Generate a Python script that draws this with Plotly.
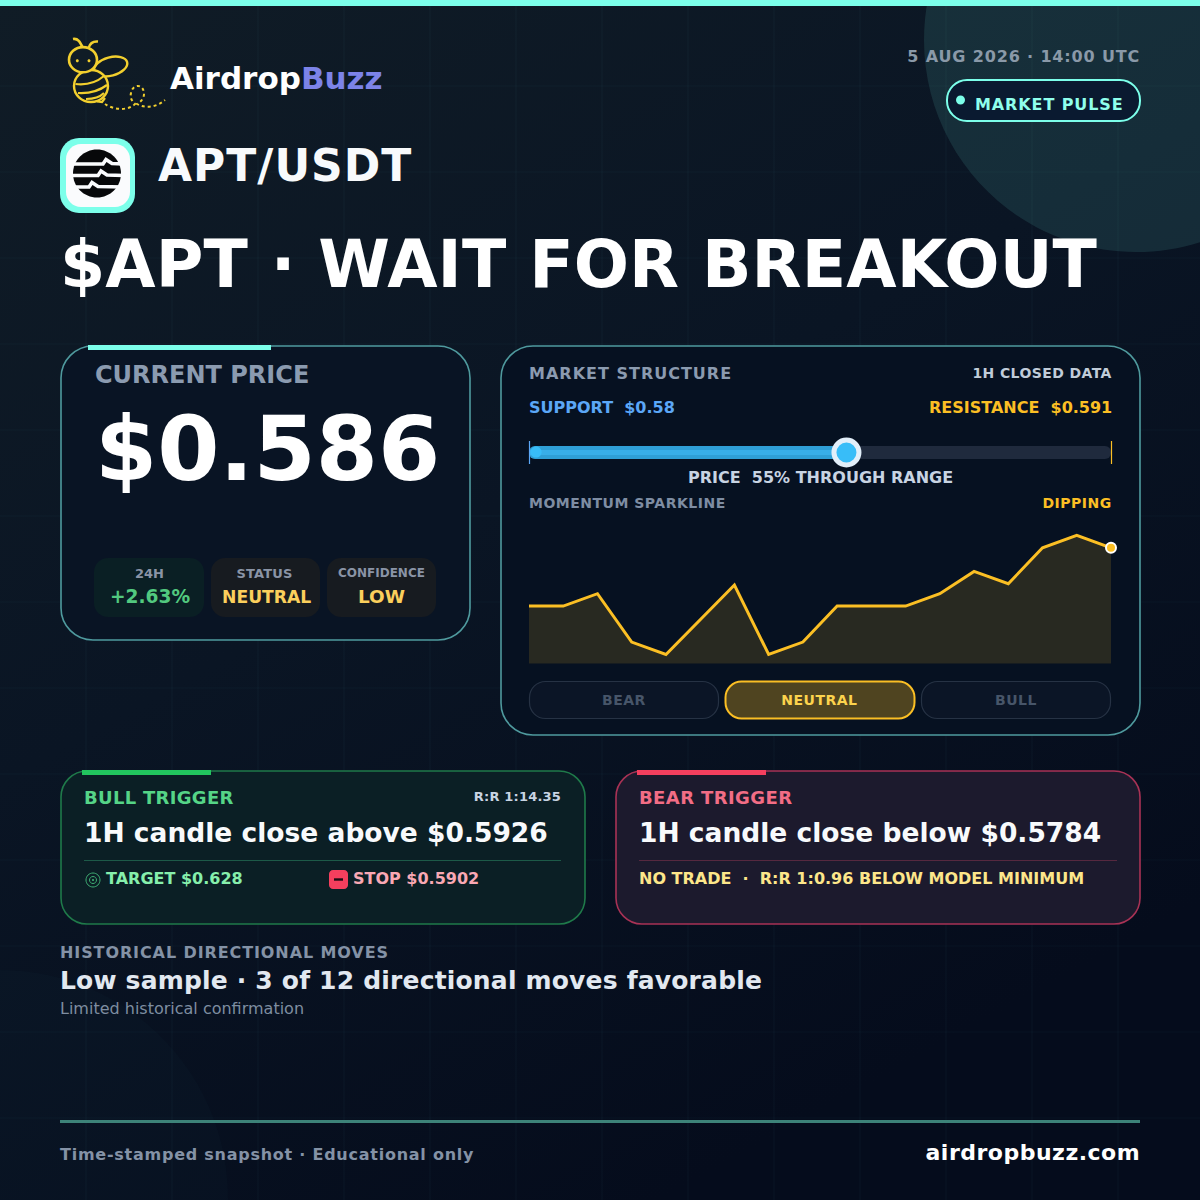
import base64, json, math
import plotly.graph_objects as go

# ---------- data ----------
SPARK_PRICES = [0.5813, 0.5813, 0.5823, 0.5784, 0.5774, 0.5802, 0.5830, 0.5774, 0.5784,
                0.5813, 0.5813, 0.5813, 0.5823, 0.5841, 0.5831, 0.5860, 0.5870, 0.5860]
SUPPORT = 0.58
RESISTANCE = 0.591
PRICE = 0.586
REGIMES = ["BEAR", "NEUTRAL", "BULL"]
STATS = [("24H", "+2.63%"), ("STATUS", "NEUTRAL"), ("CONFIDENCE", "LOW")]

FONT = "DejaVu Sans"
shapes, annos, LS = [], [], []
W = 1200.0


def rrect(x0, y0, x1, y1, r):
    k = r * 0.45
    return (f"M{x0+r},{y0} L{x1-r},{y0} C{x1-k},{y0} {x1},{y0+k} {x1},{y0+r} L{x1},{y1-r} "
            f"C{x1},{y1-k} {x1-k},{y1} {x1-r},{y1} L{x0+r},{y1} C{x0+k},{y1} {x0},{y1-k} {x0},{y1-r} "
            f"L{x0},{y0+r} C{x0},{y0+k} {x0+k},{y0} {x0+r},{y0} Z")


def ell(cx, cy, rx, ry, deg):
    a = math.radians(deg)
    def P(u, v):
        return f"{cx + u*math.cos(a) - v*math.sin(a):.2f},{cy + u*math.sin(a) + v*math.cos(a):.2f}"
    k = 0.5523
    return (f"M{P(rx,0)} C{P(rx,k*ry)} {P(k*rx,ry)} {P(0,ry)} C{P(-k*rx,ry)} {P(-rx,k*ry)} {P(-rx,0)} "
            f"C{P(-rx,-k*ry)} {P(-k*rx,-ry)} {P(0,-ry)} C{P(k*rx,-ry)} {P(rx,-k*ry)} {P(rx,0)} Z")


def path(d, fill=None, line=None, lw=0, dash=None, layer="below"):
    s = dict(type="path", path=d, xref="x", yref="y", layer=layer,
             line=dict(width=lw, color=line or "rgba(0,0,0,0)"))
    if dash:
        s["line"]["dash"] = dash
    if fill:
        s["fillcolor"] = fill
    shapes.append(s)


def rect(x0, y0, x1, y1, r, fill=None, line=None, lw=0, layer="below"):
    path(rrect(x0, y0, x1, y1, r), fill, line, lw, layer=layer)


def circle(cx, cy, r, fill=None, line=None, lw=0, layer="below"):
    path(ell(cx, cy, r, r, 0), fill, line, lw, layer=layer)


def T(x, y, text, size, color, weight=700, anchor="left", ls=0):
    annos.append(dict(x=x, y=y, xref="x", yref="y", text=text, showarrow=False, xanchor=anchor,
                      yanchor="middle", align=anchor, borderpad=0, borderwidth=0,
                      font=dict(family=FONT, size=size, color=color, weight=weight)))
    LS.append(ls)


# ---------- background ----------
svg = ('<svg xmlns="http://www.w3.org/2000/svg" width="1200" height="1200">'
       '<defs><linearGradient id="g" x1="0" y1="0" x2="0.55" y2="1">'
       '<stop offset="0" stop-color="#101c26"/><stop offset="0.5" stop-color="#0a1524"/>'
       '<stop offset="1" stop-color="#050c1c"/></linearGradient></defs>'
       '<rect width="1200" height="1200" fill="url(#g)"/></svg>')
bg_uri = "data:image/svg+xml;base64," + base64.b64encode(svg.encode()).decode()

for i in range(1, 14):
    p = 86 * i
    path(f"M{p},0 L{p},1200", line="rgba(130,220,220,0.05)", lw=1)
    path(f"M0,{p} L1200,{p}", line="rgba(130,220,220,0.04)", lw=1)

circle(1136, 40, 212, fill="rgba(124,255,234,0.105)")
circle(0, 1198, 228, fill="rgba(124,255,234,0.015)")
rect(-2, -2, 1202, 6, 0, fill="#7cffea")

# ---------- logo: bee ----------
Y = "#f2cf2e"
BG = "#101c26"
path("M83,48 C80,42 78,38 73,39", line=Y, lw=2.6)
path("M88.5,48 C90,43 93,41 98,41.5", line=Y, lw=2.6)
path(ell(110.7, 66.5, 17, 9.2, -15), line=Y, lw=2.4)
path(ell(91, 86, 17, 16, 0), line=Y, lw=2.4, fill=BG)
path("M75.5,84 Q92,86 104,76", line=Y, lw=2.2)
path("M78,93 Q95,94 107,85", line=Y, lw=2.2)
path("M86,99 Q98,99 104,93", line=Y, lw=2.2)
path("M97,101.5 L102,102 L105,98", line=Y, lw=2.2)
path(ell(83, 59.7, 14, 12.6, 0), line=Y, lw=2.6, fill=BG)
circle(77.3, 60.7, 1.5, fill=Y)
circle(89, 60.7, 1.5, fill=Y)
path("M105,104 C112,109 126,112 135,104 C131,100 130,97 131,93 C132,88 135,86 138,86 "
     "C142,86 144,90 144,94 C144,98 141,102 137,104 C146,109 157,107 165,100",
     line=Y, lw=2, dash="dot")

# ---------- APT icon ----------
rect(60, 138, 135, 213, 19, fill="#7cffea")
rect(66, 144, 130, 207, 15, fill="#fafbfd")
circle(97, 173.5, 24, fill="#07080a")
for yy, nx in ((164, 106), (175.5, 101), (187, 92)):
    path(f"M70,{yy} L{nx-3},{yy} L{nx},{yy-4.5} L{nx+6},{yy-0.5} L124,{yy}", line="#fafbfd", lw=3.6)

# ---------- pill ----------
rect(947, 80, 1140, 121, 20, fill="#0a1a30", line="#7cffea", lw=2)
circle(960.5, 100, 4.5, fill="#7cffea")

# ---------- panels ----------
rect(61, 346, 470, 640, 32, fill="#091424", line="#4f9a9e", lw=1.6)
rect(88, 345, 271, 350, 0, fill="#7cffea")
for (x0, x1, f) in ((94, 204, "#0a1f24"), (211, 320, "#171b20"), (327, 436, "#171b20")):
    rect(x0, 558, x1, 617, 14, fill=f)

rect(501, 346, 1140, 735, 32, fill="#061121", line="#4f9a9e", lw=1.6)
for i, (x0, x1) in enumerate(((529.5, 718.5), (725.5, 914.5), (921.5, 1110.5))):
    if i == 1:
        rect(x0, 681.5, x1, 718.5, 16, fill="#4f4420", line="#fbbf24", lw=2)
    else:
        rect(x0, 681.5, x1, 718.5, 16, fill="#0b1526", line="#263244", lw=1.2)

rect(61, 771, 585, 924, 26, fill="#0b1f25", line="#1f7a4a", lw=1.6)
rect(82, 770, 211, 775, 0, fill="#22c55e")
path("M84,860.5 L561,860.5", line="#1d5a48", lw=1)
rect(616, 771, 1140, 924, 26, fill="#1c1a2d", line="#a83255", lw=1.6)
rect(637, 770, 766, 775, 0, fill="#f43f5e")
path("M639,860.5 L1117,860.5", line="#56283f", lw=1)

circle(93, 880, 7, line="#3fae74", lw=1)
circle(93, 880, 3.5, line="#3fae74", lw=1)
circle(93, 880, 1, fill="#3fae74")
rect(329, 870, 348, 889, 4, fill="#f43f5e")
path("M334,879.5 L343,879.5", line="#1c0c14", lw=2.4)

path("M60,1121.5 L1140,1121.5", line="#3d8379", lw=3)

# slider ends and left dot, above the traces
path("M529.5,441 L529.5,464", line="#5ba7f7", lw=1.2, layer="above")
path("M1111.5,441 L1111.5,464", line="#fbbf24", lw=1.2, layer="above")
circle(536, 452, 5.6, fill="#38bdf8", layer="above")

# ---------- text ----------
T(170, 78, 'Airdrop<span style="color:#7c83e8">Buzz</span>', 31, "#ffffff")
T(158, 165, "APT/USDT", 44, "#f8fafc", ls=1)
T(60, 264, "$APT · WAIT FOR BREAKOUT", 65, "#ffffff", ls=0.12)
T(1140, 56, "5 AUG 2026 · 14:00 UTC", 16, "#8a99a8", anchor="right", ls=0.85)
T(975, 104, "MARKET PULSE", 16, "#8fffec", ls=0.9)

T(95, 375, "CURRENT PRICE", 24, "#8b9bb0")
T(95, 449, "$0.586", 89.5, "#ffffff")
T(149, 573, STATS[0][0], 13, "#8a94a6", anchor="center")
T(150, 596, STATS[0][1], 18.6, "#52c97f", anchor="center", weight=600)
T(264, 573, STATS[1][0], 13, "#8a94a6", anchor="center", ls=0.2)
T(266, 597, STATS[1][1], 17.2, "#fbcf5c", anchor="center")
T(381, 573, STATS[2][0], 12, "#8a94a6", anchor="center")
T(381, 596, STATS[2][1], 18.4, "#fbcf5c", anchor="center")

T(529, 373, "MARKET STRUCTURE", 16, "#8b9bb0", ls=1)
T(1112, 373, "1H CLOSED DATA", 14, "#c0ccd9", anchor="right", ls=0.4)
T(529, 407, f"SUPPORT&nbsp;&nbsp;${SUPPORT}", 16, "#5ba7f7")
T(1112, 407, f"RESISTANCE&nbsp;&nbsp;${RESISTANCE}", 16, "#fbbf24", anchor="right")
T(820.5, 477, "PRICE&nbsp;&nbsp;55% THROUGH RANGE", 16, "#c8d4e3", anchor="center")
T(529, 503, "MOMENTUM SPARKLINE", 14, "#7e8da3", ls=0.5)
T(1112, 503, "DIPPING", 14, "#fbbf24", anchor="right", ls=0.5)
T(624, 700, REGIMES[0], 14, "#475569", anchor="center", ls=0.5)
T(819.5, 700, REGIMES[1], 14, "#fcd34d", anchor="center", ls=0.5)
T(1016, 700, REGIMES[2], 14, "#475569", anchor="center", ls=0.5)

T(84, 797, "BULL TRIGGER", 18, "#55d487", ls=0.3)
T(561, 796, "R:R 1:14.35", 13, "#c8d4e3", anchor="right", ls=0.2)
T(84, 832.5, "1H candle close above $0.5926", 26.5, "#f8fafc")
T(106, 878, "TARGET $0.628", 16, "#86efac")
T(353, 878, "STOP $0.5902", 16, "#f9a8b4")
T(639, 797, "BEAR TRIGGER", 18, "#f26d85", ls=0.4)
T(639, 832.5, "1H candle close below $0.5784", 26.5, "#f8fafc")
T(639, 878, "NO TRADE&nbsp;&nbsp;·&nbsp;&nbsp;R:R 1:0.96 BELOW MODEL MINIMUM", 16, "#fde68a")

T(60, 952, "HISTORICAL DIRECTIONAL MOVES", 16, "#8492a6", ls=0.9)
T(60, 980, "Low sample · 3 of 12 directional moves favorable", 25, "#e2e8f0", ls=0.18)
T(60, 1008, "Limited historical confirmation", 16, "#7e8da0", weight=400)
T(60, 1154, "Time-stamped snapshot · Educational only", 16, "#8492a6", ls=0.75)
T(1140, 1152, "airdropbuzz.com", 22, "#ffffff", anchor="right", ls=0.5)

# ---------- traces ----------
fig = go.Figure()
fig.add_trace(go.Scatter(x=[0], y=[0], mode="markers", marker=dict(opacity=0), xaxis="x", yaxis="y",
                         hoverinfo="skip", showlegend=False))
# sparkline
fig.add_trace(go.Scatter(x=list(range(len(SPARK_PRICES))), y=SPARK_PRICES, mode="lines",
                         line=dict(color="#fbbf24", width=3), fill="tozeroy",
                         fillcolor="rgba(251,191,36,0.14)", xaxis="x2", yaxis="y2",
                         hoverinfo="skip", showlegend=False))
fig.add_trace(go.Scatter(x=[len(SPARK_PRICES) - 1], y=[SPARK_PRICES[-1]], mode="markers",
                         marker=dict(size=10, color="#fbbf24", line=dict(color="#ffffff", width=2)),
                         cliponaxis=False, xaxis="x2", yaxis="y2", hoverinfo="skip", showlegend=False))
# range slider
fig.add_trace(go.Bar(y=[0], x=[RESISTANCE - SUPPORT], base=[SUPPORT], orientation="h", width=1,
                     marker=dict(color="#1f2a3d", line=dict(width=0)), xaxis="x3", yaxis="y3",
                     hoverinfo="skip", showlegend=False))
fig.add_trace(go.Bar(y=[0], x=[PRICE - SUPPORT], base=[SUPPORT], orientation="h", width=1,
                     marker=dict(color="#2f9fd6", line=dict(width=0)), xaxis="x3", yaxis="y3",
                     hoverinfo="skip", showlegend=False))
fig.add_trace(go.Scatter(x=[SUPPORT, PRICE], y=[0, 0], mode="lines", line=dict(color="#38aee8", width=5),
                         xaxis="x3", yaxis="y3", hoverinfo="skip", showlegend=False))
fig.add_trace(go.Scatter(x=[PRICE], y=[0], mode="markers",
                         marker=dict(size=25, color="#38bdf8", line=dict(color="#e2effa", width=5)),
                         cliponaxis=False, xaxis="x3", yaxis="y3", hoverinfo="skip", showlegend=False))

hidden = dict(visible=False, fixedrange=True)
fig.update_layout(
    width=1200, height=1200, margin=dict(l=0, r=0, t=0, b=0, pad=0), autosize=False,
    paper_bgcolor="#0a1524", plot_bgcolor="rgba(0,0,0,0)", showlegend=False,
    barmode="overlay", barcornerradius=6, hovermode=False,
    images=[dict(source=bg_uri, xref="paper", yref="paper", x=0, y=1, sizex=1, sizey=1,
                 xanchor="left", yanchor="top", sizing="stretch", layer="below")],
    xaxis=dict(range=[0, 1200], domain=[0, 1], **hidden),
    yaxis=dict(range=[1200, 0], domain=[0, 1], **hidden),
    xaxis2=dict(range=[0, len(SPARK_PRICES) - 1], domain=[529 / W, 1111 / W], anchor="y2", **hidden),
    yaxis2=dict(range=[0.57667, 0.5878], domain=[1 - 663.5 / W, 1 - 525.5 / W], anchor="x2", **hidden),
    xaxis3=dict(range=[SUPPORT, RESISTANCE], domain=[529 / W, 1111 / W], anchor="y3", **hidden),
    yaxis3=dict(range=[-0.5, 0.5], domain=[1 - 459 / W, 1 - 446 / W], anchor="x3", **hidden),
    shapes=shapes, annotations=annos,
)

post = ("document.body.style.margin='0';document.body.style.background='#0a1524';"
        "var LS=" + json.dumps(LS) + ";"
        "document.querySelectorAll('.annotation-text').forEach(function(t,i){"
        "if(LS[i]){t.style.letterSpacing=LS[i]+'px';}});")
fig.write_html("out.html", config={"displayModeBar": False, "staticPlot": True}, post_script=post)
